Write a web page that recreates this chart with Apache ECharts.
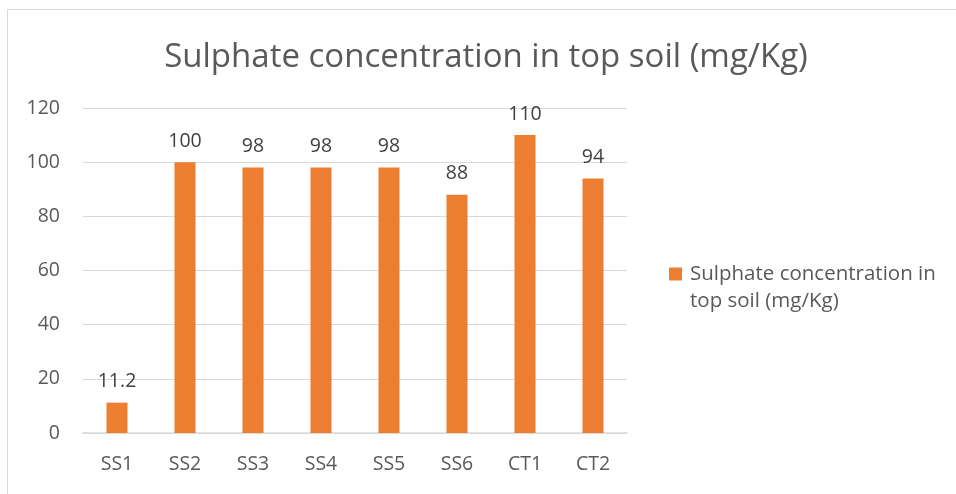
<!DOCTYPE html>
<html>
<head>
<meta charset="utf-8">
<script src="https://cdn.jsdelivr.net/npm/echarts@6/dist/echarts.min.js"></script>
<style>
  html, body { margin: 0; padding: 0; background: #fff; overflow: hidden; }
  #frame { position: absolute; left: 7px; top: 9px; width: 1000px; height: 600px;
           border: 1px solid #d9d9d9; box-sizing: border-box; }
  #chart { position: absolute; left: 0; top: 0; width: 956px; height: 494px; }
</style>
</head>
<body>
<div id="frame"></div>
<div id="chart"></div>
<script>
const sites = ['SS1', 'SS2', 'SS3', 'SS4', 'SS5', 'SS6', 'CT1', 'CT2'];
const sulphate = [11.2, 100, 98, 98, 98, 88, 110, 94];
const seriesName = 'Sulphate concentration in top soil (mg/Kg)';
const legendLines = ['Sulphate concentration in', 'top soil (mg/Kg)'];

const FONT = '"Open Sans", "Liberation Sans", sans-serif';
const chart = echarts.init(document.getElementById('chart'), null, { renderer: 'canvas' });
chart.setOption({
  backgroundColor: 'transparent',
  animation: false,
  title: {
    text: 'Sulphate concentration in top soil (mg/Kg)',
    left: 481, top: 36, textAlign: 'center',
    textStyle: { fontFamily: FONT, fontSize: 33, fontWeight: 'normal', color: '#595959' }
  },
  legend: {
    left: 669, top: 261, orient: 'vertical', padding: 0,
    itemWidth: 13, itemHeight: 13, itemGap: 8,
    icon: 'rect',
    formatter: () => legendLines[0],
    textStyle: { fontFamily: FONT, fontSize: 20.5, color: '#595959', lineHeight: 26, padding: [0, 0, 0, 3] }
  },
  // wrapped second line of the legend entry
  graphic: [{
    type: 'text', left: 690, top: 288,
    style: { text: legendLines[1], font: '20.5px ' + FONT, fill: '#595959', lineHeight: 26 }
  }],
  grid: { left: 83, right: 329, top: 108, bottom: 61, containLabel: false },
  xAxis: {
    type: 'category', data: sites,
    axisLine: { lineStyle: { color: '#d9d9d9', width: 1.5 } },
    axisTick: { show: false },
    axisLabel: { fontFamily: FONT, fontSize: 19.5, color: '#595959', margin: 21 }
  },
  yAxis: {
    type: 'value', min: 0, max: 120, interval: 20,
    axisLine: { show: false }, axisTick: { show: false },
    splitLine: { lineStyle: { color: '#d9d9d9', width: 1 } },
    axisLabel: { fontFamily: FONT, fontSize: 19.5, color: '#595959', margin: 23 }
  },
  series: [{
    name: seriesName, type: 'bar', data: sulphate, barWidth: 21,
    itemStyle: { color: '#ed7d31' },
    label: { show: true, position: 'top', distance: 11, fontFamily: FONT, fontSize: 19.5, color: '#404040' }
  }]
});
</script>
</body>
</html>
